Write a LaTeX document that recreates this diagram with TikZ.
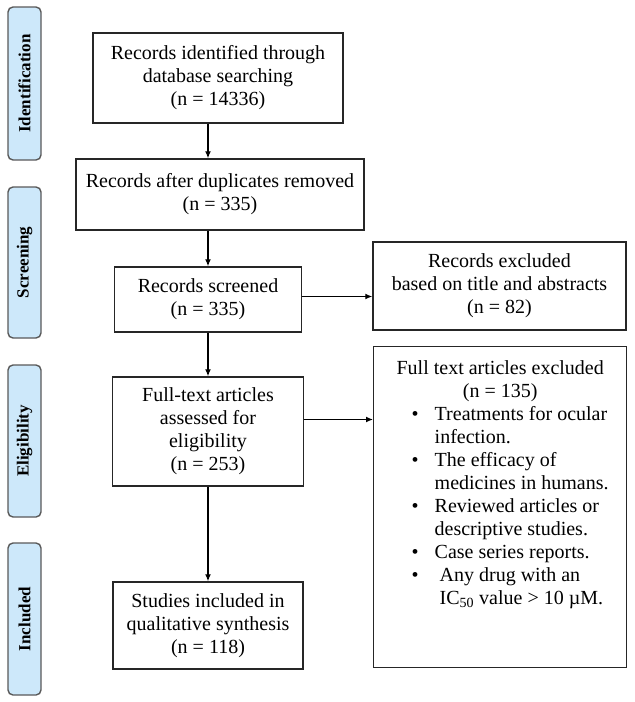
\documentclass[tikz,border=0pt]{standalone}
\usepackage{fontspec}
\setmainfont{Liberation Serif}
\usetikzlibrary{arrows.meta,positioning}
\definecolor{phasefill}{RGB}{205,232,250}

\begin{document}
\begin{tikzpicture}[x=1pt,y=-1pt,
	box/.style={draw=black!85,line width=1.4pt,align=center,inner sep=0pt,
		font=\fontsize{20}{23}\selectfont},
	phase/.style={draw=black!65,line width=1.4pt,fill=phasefill,rounded corners=5pt,
		rotate=90,minimum height=33pt,inner sep=0pt,font=\fontsize{17}{18}\selectfont\bfseries},
	arr/.style={-{Latex[length=7pt,width=6pt]},line width=1.3pt}]
	\useasboundingbox (0,0) rectangle (635,702);
	\node [phase,minimum width=153pt] (idphase) at (24.5,83.5) {Identification};
	\node [phase,minimum width=151pt] (scphase) at (24.5,262.5) {Screening};
	\node [phase,minimum width=152pt] (elphase) at (24.5,441) {Eligibility};
	\node [phase,minimum width=152pt] (inphase) at (24.5,619) {Included};
	\node [box,minimum width=250pt,minimum height=90pt] (ident) at (218,78)
	{Records identified through\\database searching\\(n = 14336)};
	\node [box,minimum width=288pt,minimum height=71pt] (dupl) at (220,194.5)
	{Records after duplicates removed\\(n = 335)};
	\node [box,minimum width=187pt,minimum height=65pt] (screen) at (208,299.5)
	{Records screened\\(n = 335)};
	\node [box,minimum width=253pt,minimum height=88pt] (excl) at (499.5,286)
	{Records excluded\\based on title and abstracts\\(n = 82)};
	\node [box,minimum width=191pt,minimum height=109pt] (full) at (208,431.5)
	{Full-text articles\\assessed for\\eligibility\\(n = 253)};
	\node [box,inner ysep=14pt,anchor=north west] (fullexcl) at (373,346)
	{\parbox[t][293pt][t]{253pt}{{\centering Full text articles excluded\\(n = 135)\par}
		\noindent\hspace*{38pt}\begin{tabular}[t]{@{}l@{\hspace{16pt}}l@{}}
			\textbullet & Treatments for ocular\\
			& infection.\\
			\textbullet & The efficacy of\\
			& medicines in humans.\\
			\textbullet & Reviewed articles or\\
			& descriptive studies.\\
			\textbullet & Case series reports.\\
			\textbullet & \hspace{5pt}Any drug with an\\
			& \hspace{5pt}IC\textsubscript{50} value > 10 µM.
	\end{tabular}}};
	\node [box,minimum width=190pt,minimum height=87pt] (incl) at (208,625.5)
	{Studies included in\\qualitative synthesis\\(n = 118)};
	\draw [arr] (ident.south -| screen) -- (dupl.north -| screen);
	\draw [arr] (dupl.south -| screen) -- (screen);
	\draw [arr] (screen) -- (full);
	\draw [arr] (full) -- (incl);
	\draw [arr] ([yshift=3pt]screen.east) -- ([yshift=3pt]screen.east -| excl.west);
	\draw [arr] ([yshift=12pt]full.east) -- ([yshift=12pt]full.east -| fullexcl.west);
\end{tikzpicture}
\end{document}
